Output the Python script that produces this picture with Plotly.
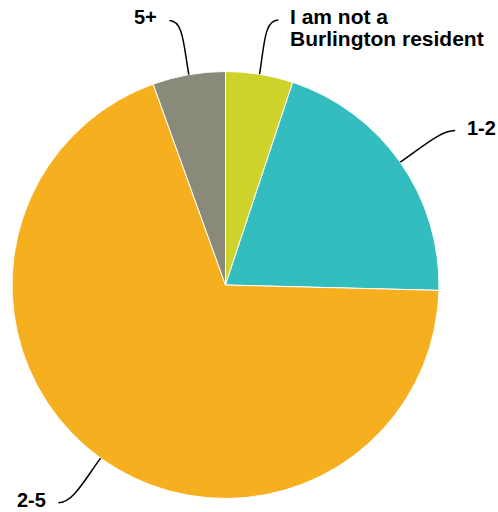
import numpy as np
import plotly.graph_objects as go

labels = ["I am not a Burlington resident", "1-2", "2-5", "5+"]
label_lines = [["I am not a", "Burlington resident"], ["1-2"], ["2-5"], ["5+"]]
values = [5.1, 20.3, 69.1, 5.5]
colors = ["#CDD32B", "#33BDBF", "#F6AF1F", "#8A8A7A"]

W, H = 498, 512
CX, CY, R = 225.5, 285.0, 213.5  # pixel centre/radius of the pie

fig = go.Figure(go.Pie(
    labels=labels, values=values, sort=False, direction="clockwise", rotation=0,
    marker=dict(colors=colors, line=dict(color="white", width=1)),
    textinfo="none", hoverinfo="label+percent", showlegend=False,
    domain=dict(x=[(CX - R) / W, (CX + R) / W], y=[(H - CY - R) / H, (H - CY + R) / H]),
))

# leader lines + labels computed from the slice mid-angles
tot = sum(values)
cum = np.cumsum([0] + values[:-1])
L, HOFF, GAP, LINE_H = 55, 10, 12, 22
shapes, annots = [], []
px = lambda x: x / W
py = lambda y: 1 - y / H
for lines, v, c in zip(label_lines, values, cum):
    ang = np.radians((c + v / 2) / tot * 360)
    dx, dy = np.sin(ang), -np.cos(ang)  # pixel direction (y down)
    sx, sy = CX + R * dx, CY + R * dy
    side = 1 if dx >= 0 else -1
    ex, ey = sx + dx * L + side * HOFF, sy + dy * L
    c1x, c1y = sx + dx * L * 0.55, sy + dy * L * 0.55
    c2x, c2y = ex - side * 14, ey
    path = f"M {px(sx)},{py(sy)} C {px(c1x)},{py(c1y)} {px(c2x)},{py(c2y)} {px(ex)},{py(ey)}"
    shapes.append(dict(type="path", path=path, xref="paper", yref="paper",
                       line=dict(color="black", width=1.5)))
    size = 21 if len(lines) > 1 else 20
    for i, t in enumerate(lines):
        annots.append(dict(
            x=px(ex + side * GAP), y=py(ey - 3 + i * LINE_H), xref="paper", yref="paper",
            text=f"<b>{t}</b>", showarrow=False,
            xanchor="left" if side > 0 else "right", yanchor="middle",
            xshift=-2 if side > 0 else 2,
            font=dict(family="Liberation Sans, Arial, sans-serif", size=size, color="black"),
        ))

fig.update_layout(
    width=W, height=H, margin=dict(l=0, r=0, t=0, b=0),
    paper_bgcolor="white", plot_bgcolor="white",
    shapes=shapes, annotations=annots,
)
fig.write_html("out.html", config={"displayModeBar": False},
               post_script="document.body.style.margin='0';")
